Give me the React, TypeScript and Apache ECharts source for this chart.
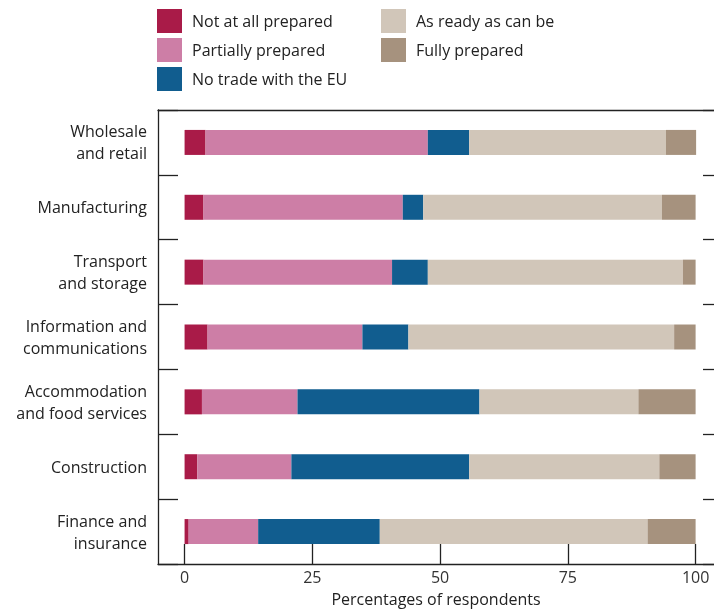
import React, { useEffect, useRef } from "react";
import * as echarts from "echarts";

const categories = [
  "Wholesale\nand retail",
  "Manufacturing",
  "Transport\nand storage",
  "Information and\ncommunications",
  "Accommodation\nand food services",
  "Construction",
  "Finance and\ninsurance",
];

const seriesNames = [
  "Not at all prepared",
  "Partially prepared",
  "No trade with the EU",
  "As ready as can be",
  "Fully prepared",
];

const notAtAll = [4.1, 3.7, 3.7, 4.5, 3.4, 2.5, 0.8];
const partially = [43.5, 39.0, 36.9, 30.3, 18.7, 18.4, 13.6];
const noTrade = [8.1, 4.0, 7.0, 9.0, 35.6, 34.8, 23.8];
const asReady = [38.5, 46.7, 49.9, 52.0, 31.1, 37.2, 52.4];
const fully = [5.9, 6.6, 2.5, 4.2, 11.2, 7.1, 9.4];

const xTicks = [0, 25, 50, 75, 100];

const colors = ["#A91B48", "#CD7EA6", "#115D8F", "#D1C6B9", "#A6927E"];

export default function App() {
  const ref = useRef<HTMLDivElement>(null);
  useEffect(() => {
    if (!ref.current) return;
    const chart = echarts.init(ref.current, undefined, { renderer: "svg" });
    const font = "'Open Sans', 'Noto Sans', sans-serif";
    const values = [notAtAll, partially, noTrade, asReady, fully];
    const lineStyle = { color: "#222", width: 1.3 };
    const legendBase = {
      orient: "vertical",
      top: 9,
      padding: 0,
      itemWidth: 25,
      itemHeight: 24,
      itemGap: 5,
      icon: "rect",
      selectedMode: false,
      textStyle: { fontFamily: font, fontSize: 16, color: "#222", padding: [0, 0, 0, 5] },
    };
    chart.setOption({
      animation: false,
      color: colors,
      textStyle: { fontFamily: font },
      legend: [
        { ...legendBase, data: seriesNames.slice(0, 3), left: 157 },
        { ...legendBase, data: seriesNames.slice(3), left: 381 },
      ],
      grid: {
        left: 158,
        top: 110,
        right: 0,
        bottom: 47,
        containLabel: false,
      },
      xAxis: [
        {
          type: "value",
          min: -5.2,
          max: 103.6,
          splitLine: { show: false },
          axisLine: { show: true, onZero: false, lineStyle },
          axisTick: {
            show: true,
            inside: true,
            length: 20,
            customValues: xTicks,
            lineStyle,
          },
          axisLabel: {
            customValues: xTicks,
            color: "#333",
            fontSize: 16,
            margin: 5,
            fontFamily: font,
          },
          name: "Percentages of respondents",
          nameLocation: "middle",
          nameGap: 27,
          nameTextStyle: { color: "#222", fontSize: 16, fontFamily: font },
        },
        {
          type: "value",
          position: "top",
          min: -5.2,
          max: 103.6,
          splitLine: { show: false },
          axisLine: { show: true, onZero: false, lineStyle },
          axisTick: { show: false },
          axisLabel: { show: false },
        },
      ],
      yAxis: [
        {
          type: "category",
          data: categories,
          inverse: true,
          axisLine: { show: true, onZero: false, lineStyle },
          axisTick: { show: true, inside: true, length: 20, lineStyle },
          axisLabel: {
            color: "#222",
            fontSize: 16,
            lineHeight: 22,
            margin: 11,
            align: "right",
            fontFamily: font,
          },
        },
        {
          type: "category",
          data: categories,
          inverse: true,
          position: "right",
          axisLine: { show: false, onZero: false },
          axisTick: { show: true, inside: true, length: 11, lineStyle },
          axisLabel: { show: false },
        },
      ],
      series: seriesNames.map((name, i) => ({
        name,
        type: "bar",
        stack: "total",
        barWidth: 25,
        xAxisIndex: 0,
        yAxisIndex: 0,
        data: values[i],
      })),
    });
    return () => chart.dispose();
  }, []);
  return (
    <div
      ref={ref}
      style={{ position: "fixed", left: 0, top: 0, width: 714, height: 612 }}
    />
  );
}
